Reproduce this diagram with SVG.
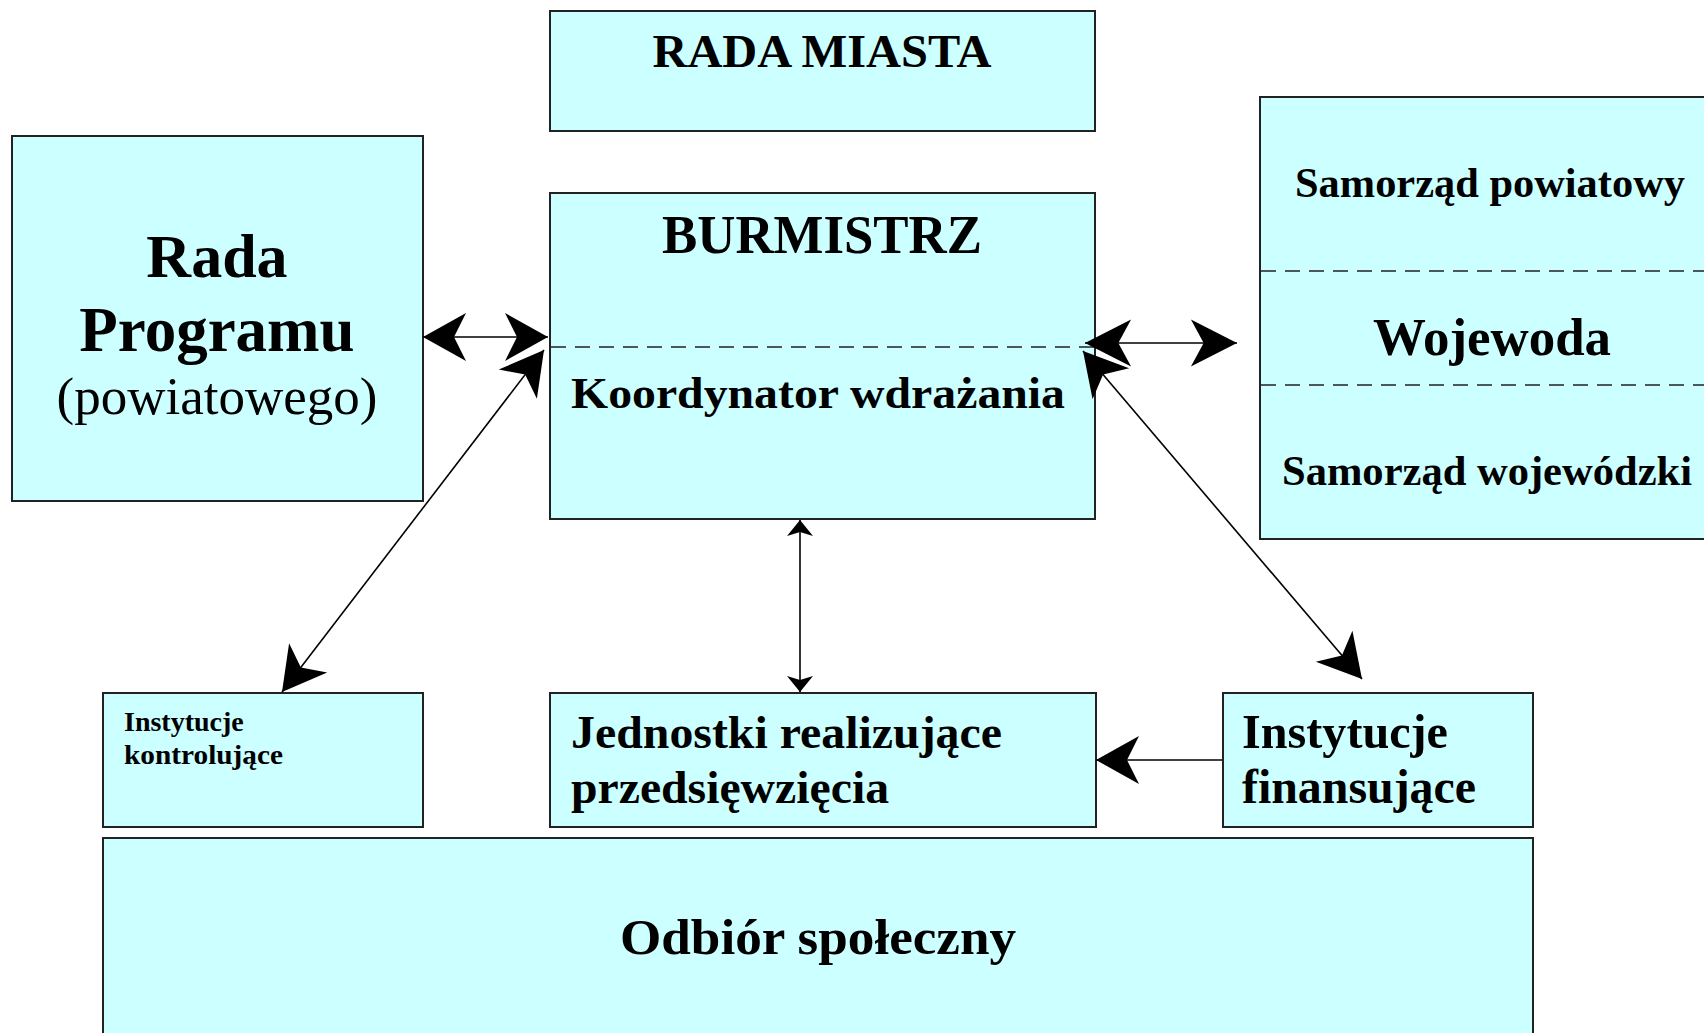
<svg xmlns="http://www.w3.org/2000/svg" width="1704" height="1033" viewBox="0 0 1704 1033">
<style>
.box{fill:#CCFFFF;stroke:#222;stroke-width:2}
.dash{stroke:#222;stroke-width:1.6;stroke-dasharray:15 9;fill:none}
.t{font-family:"Liberation Serif","Times New Roman",serif;font-weight:bold;fill:#000}
.r{font-family:"Liberation Serif","Times New Roman",serif;font-weight:normal;fill:#000}
.c{text-anchor:middle}
.ln{stroke:#000;stroke-width:1.6;fill:none}
</style>
<defs>
<marker id="big" markerUnits="userSpaceOnUse" markerWidth="50" markerHeight="50" viewBox="-45 -25 47 50" refX="0" refY="0" orient="auto-start-reverse" overflow="visible">
<path d="M0,0 L-43,-24 L-31,0 L-43,24 Z" fill="#000"/>
</marker>
<marker id="long" markerUnits="userSpaceOnUse" markerWidth="50" markerHeight="50" viewBox="-49 -25 51 50" refX="0" refY="0" orient="auto-start-reverse" overflow="visible">
<path d="M0,0 L-47,-24 L-34,0 L-47,24 Z" fill="#000"/>
</marker>
<marker id="small" markerUnits="userSpaceOnUse" markerWidth="20" markerHeight="30" viewBox="-18 -14 20 28" refX="0" refY="0" orient="auto-start-reverse" overflow="visible">
<path d="M0,0 L-16,-13 L-12,0 L-16,13 Z" fill="#000"/>
</marker>
</defs>
<rect width="1704" height="1033" fill="#fff"/>

<g id="rada-miasta">
<rect class="box" x="550" y="11" width="545" height="120"/>
<text class="t c" x="822" y="67" font-size="46" textLength="339" lengthAdjust="spacingAndGlyphs">RADA MIASTA</text>
</g>

<g id="rada-programu">
<rect class="box" x="12" y="136" width="411" height="365"/>
<text class="t c" x="217" y="277" font-size="62">Rada</text>
<text class="t c" x="217" y="351" font-size="63">Programu</text>
<text class="r c" x="217" y="414" font-size="53">(powiatowego)</text>
</g>

<g id="burmistrz">
<rect class="box" x="550" y="193" width="545" height="326"/>
<line class="dash" x1="551" y1="347" x2="1094" y2="347"/>
<text class="t c" x="822" y="253" font-size="54" textLength="320" lengthAdjust="spacingAndGlyphs">BURMISTRZ</text>
<text class="t" x="571" y="408" font-size="44" textLength="494" lengthAdjust="spacingAndGlyphs">Koordynator wdrażania</text>
</g>

<g id="wojewoda">
<rect class="box" x="1260" y="97" width="460" height="442"/>
<line class="dash" x1="1261" y1="271" x2="1704" y2="271"/>
<line class="dash" x1="1261" y1="385" x2="1704" y2="385"/>
<text class="t" x="1295" y="197" font-size="43" textLength="390" lengthAdjust="spacingAndGlyphs">Samorząd powiatowy</text>
<text class="t" x="1373" y="355" font-size="53" textLength="238" lengthAdjust="spacingAndGlyphs">Wojewoda</text>
<text class="t" x="1282" y="485" font-size="43" textLength="410" lengthAdjust="spacingAndGlyphs">Samorząd wojewódzki</text>
</g>

<g id="instytucje-kontrolujace">
<rect class="box" x="103" y="693" width="320" height="134"/>
<text class="t" x="124" y="731" font-size="28">Instytucje</text>
<text class="t" x="124" y="764" font-size="28" textLength="159" lengthAdjust="spacingAndGlyphs">kontrolujące</text>
</g>

<g id="jednostki">
<rect class="box" x="550" y="693" width="546" height="134"/>
<text class="t" x="571" y="748" font-size="47" textLength="431" lengthAdjust="spacingAndGlyphs">Jednostki realizujące</text>
<text class="t" x="571" y="803" font-size="47" textLength="318" lengthAdjust="spacingAndGlyphs">przedsięwzięcia</text>
</g>

<g id="instytucje-finansujace">
<rect class="box" x="1223" y="693" width="310" height="134"/>
<text class="t" x="1242" y="748" font-size="48" textLength="206" lengthAdjust="spacingAndGlyphs">Instytucje</text>
<text class="t" x="1242" y="803" font-size="48" textLength="234" lengthAdjust="spacingAndGlyphs">finansujące</text>
</g>

<g id="odbior-spoleczny">
<rect class="box" x="103" y="838" width="1430" height="220"/>
<text class="t" x="620" y="954" font-size="51" textLength="396" lengthAdjust="spacingAndGlyphs">Odbiór społeczny</text>
</g>

<g id="connectors">
<line class="ln" x1="423" y1="337" x2="548" y2="337" marker-start="url(#big)" marker-end="url(#big)"/>
<line class="ln" x1="282" y1="692" x2="544" y2="350" marker-start="url(#big)" marker-end="url(#big)"/>
<line class="ln" x1="800" y1="520" x2="800" y2="692" marker-start="url(#small)" marker-end="url(#small)"/>
<line class="ln" x1="1085" y1="343" x2="1237" y2="343" marker-start="url(#long)" marker-end="url(#long)"/>
<line class="ln" x1="1083" y1="351" x2="1362" y2="679" marker-start="url(#big)" marker-end="url(#big)"/>
<line class="ln" x1="1222" y1="760" x2="1096" y2="760" marker-end="url(#big)"/>
</g>
</svg>
